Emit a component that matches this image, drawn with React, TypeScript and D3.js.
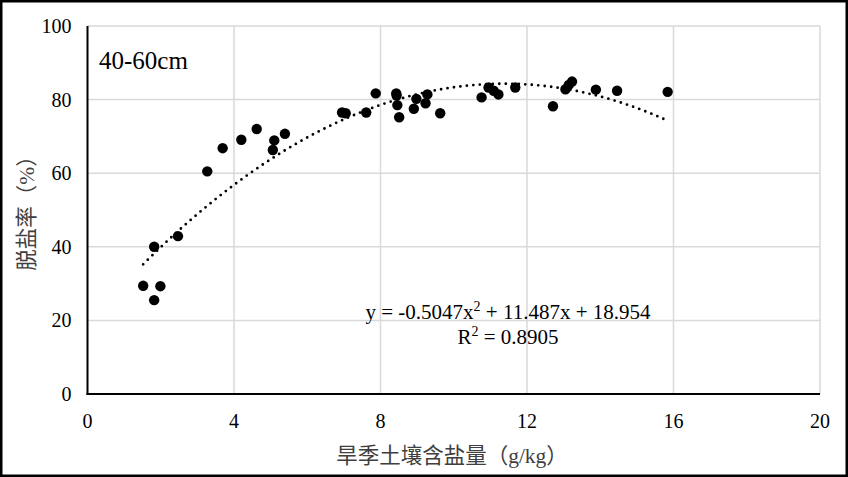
import React, { useEffect, useRef } from 'react';
import * as d3 from 'd3';

// salt content in dry season (g/kg)
const saltX = [
  1.52, 1.99, 1.82, 1.82, 2.47, 3.27, 3.69, 4.2, 4.62, 5.1, 5.06, 5.39,
  6.95, 7.05, 7.61, 7.87, 8.43, 8.44, 8.46, 8.51, 8.91, 8.98, 9.23, 9.28,
  9.63, 10.76, 10.95, 11.09, 11.22, 11.68, 12.71, 13.05, 13.14, 13.23,
  13.88, 14.46, 15.84
];
// desalination rate (%)
const desalY = [
  29.4, 29.3, 25.5, 40.0, 42.9, 60.5, 66.8, 69.1, 72.0, 68.9, 66.3, 70.7,
  76.5, 76.3, 76.5, 81.7, 81.7, 81.1, 78.5, 75.2, 77.5, 80.2, 79.0, 81.4,
  76.3, 80.6, 83.3, 82.4, 81.4, 83.3, 78.2, 82.8, 84.0, 84.9,
  82.7, 82.4, 82.1
];

const xTicks = [0, 4, 8, 12, 16, 20];
const yTicks = [0, 20, 40, 60, 80, 100];

// polynomial trendline coefficients shown on the chart
const trendA = -0.5047;
const trendB = 11.487;
const trendC = 18.954;
const trendR2 = 0.8905;

const App = () => {
  const svgRef = useRef(null);

  useEffect(() => {
    document.body.style.margin = '0';
    const width = 848;
    const height = 477;
    const margin = { top: 26, right: 28, bottom: 83, left: 87.5 };
    const serif = 'Liberation Serif';
    const cjk = 'Liberation Serif, Noto Sans CJK SC';

    const svg = d3.select(svgRef.current);
    svg.selectAll('*').remove();
    svg.attr('width', width).attr('height', height);

    svg.append('rect')
      .attr('x', 0).attr('y', 0)
      .attr('width', width).attr('height', height)
      .attr('fill', '#fff');

    const x = d3.scaleLinear().domain([0, 20]).range([margin.left, width - margin.right]);
    const y = d3.scaleLinear().domain([0, 100]).range([height - margin.bottom, margin.top]);

    // gridlines
    svg.append('g')
      .selectAll('line')
      .data(yTicks.filter(d => d > 0))
      .join('line')
      .attr('x1', x(0)).attr('x2', x(20))
      .attr('y1', d => y(d)).attr('y2', d => y(d))
      .attr('stroke', '#d9d9d9').attr('stroke-width', 1.5);

    svg.append('g')
      .selectAll('line')
      .data(xTicks.filter(d => d > 0))
      .join('line')
      .attr('x1', d => x(d)).attr('x2', d => x(d))
      .attr('y1', y(0)).attr('y2', y(100))
      .attr('stroke', '#d9d9d9').attr('stroke-width', 1.5);

    // axis lines
    svg.append('line')
      .attr('x1', x(0)).attr('x2', x(0))
      .attr('y1', y(0) + 1).attr('y2', y(100))
      .attr('stroke', '#000').attr('stroke-width', 2);
    svg.append('line')
      .attr('x1', x(0) - 1).attr('x2', x(20))
      .attr('y1', y(0)).attr('y2', y(0))
      .attr('stroke', '#000').attr('stroke-width', 2);

    // tick labels
    svg.append('g')
      .selectAll('text')
      .data(yTicks)
      .join('text')
      .attr('x', x(0) - 16)
      .attr('y', d => y(d) + 7)
      .attr('text-anchor', 'end')
      .attr('font-family', serif)
      .attr('font-size', 20)
      .attr('fill', '#000')
      .text(d => d);

    svg.append('g')
      .selectAll('text')
      .data(xTicks)
      .join('text')
      .attr('x', d => x(d))
      .attr('y', 428)
      .attr('text-anchor', 'middle')
      .attr('font-family', serif)
      .attr('font-size', 20)
      .attr('fill', '#000')
      .text(d => d);

    // trendline
    const trendFn = (v: number) => trendA * v * v + trendB * v + trendC;
    const xMin = d3.min(saltX) as number;
    const xMax = d3.max(saltX) as number;
    const samples = d3.range(0, 201).map(i => xMin + (xMax - xMin) * i / 200);
    const line = d3.line<number>()
      .x(d => x(d))
      .y(d => y(trendFn(d)));
    svg.append('path')
      .datum(samples)
      .attr('d', line)
      .attr('fill', 'none')
      .attr('stroke', '#000')
      .attr('stroke-width', 2.8)
      .attr('stroke-linecap', 'round')
      .attr('stroke-dasharray', '0 6.5');

    // points
    svg.append('g')
      .selectAll('circle')
      .data(saltX.map((v, i) => [v, desalY[i]]))
      .join('circle')
      .attr('cx', d => x(d[0]))
      .attr('cy', d => y(d[1]))
      .attr('r', 5.2)
      .attr('fill', '#000');

    // panel label
    svg.append('text')
      .attr('x', 99)
      .attr('y', 69)
      .attr('font-family', serif)
      .attr('font-size', 25)
      .attr('fill', '#000')
      .text('40-60cm');

    // equation
    const eq = svg.append('text')
      .attr('x', 508)
      .attr('y', 319)
      .attr('text-anchor', 'middle')
      .attr('font-family', serif)
      .attr('font-size', 21)
      .attr('fill', '#000');
    eq.append('tspan').text(`y = ${trendA}x`);
    eq.append('tspan').attr('dy', -8).attr('font-size', 14).text('2');
    eq.append('tspan').attr('dy', 8).text(` + ${trendB}x + ${trendC}`);

    const r2 = svg.append('text')
      .attr('x', 508)
      .attr('y', 344)
      .attr('text-anchor', 'middle')
      .attr('font-family', serif)
      .attr('font-size', 21)
      .attr('fill', '#000');
    r2.append('tspan').text('R');
    r2.append('tspan').attr('dy', -8).attr('font-size', 14).text('2');
    r2.append('tspan').attr('dy', 8).text(` = ${trendR2}`);

    // axis titles
    svg.append('text')
      .attr('x', 452)
      .attr('y', 463)
      .attr('text-anchor', 'middle')
      .attr('font-family', cjk)
      .attr('font-size', 21.5)
      .attr('fill', '#404040')
      .text('旱季土壤含盐量（g/kg）');

    svg.append('text')
      .attr('transform', `translate(34, ${(y(0) + y(100)) / 2 - 2}) rotate(-90)`)
      .attr('text-anchor', 'middle')
      .attr('font-family', cjk)
      .attr('font-size', 21.5)
      .attr('fill', '#404040')
      .text('脱盐率（%）');

    // outer border
    svg.append('rect')
      .attr('x', 1.25).attr('y', 1.25)
      .attr('width', width - 2.5).attr('height', height - 2.5)
      .attr('fill', 'none')
      .attr('stroke', '#000')
      .attr('stroke-width', 2.5);
  }, []);

  return <svg ref={svgRef} style={{ display: 'block' }}></svg>;
};

export default App;
